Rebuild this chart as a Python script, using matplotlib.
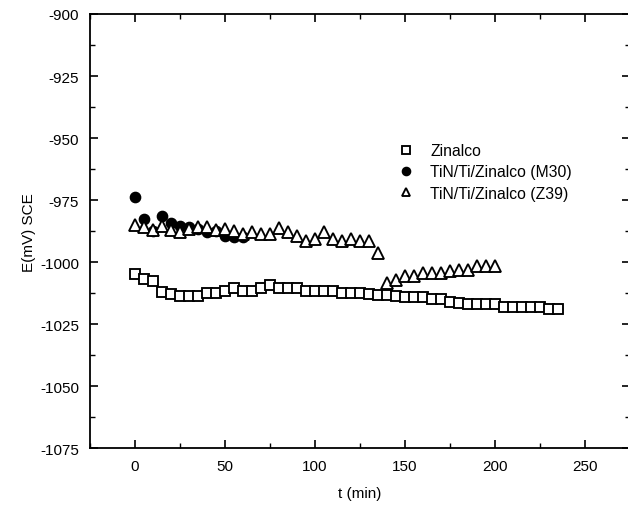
import matplotlib
matplotlib.use("Agg")
import matplotlib.pyplot as plt
from matplotlib.ticker import MultipleLocator

plt.rcParams['font.family'] = ['Liberation Sans', 'DejaVu Sans']
plt.rcParams['axes.unicode_minus'] = False

# Zinalco (squares)
t_zinalco = [0, 5, 10, 15, 20, 25, 30, 35, 40, 45, 50, 55, 60, 65, 70, 75, 80, 85, 90, 95,
             100, 105, 110, 115, 120, 125, 130, 135, 140, 145, 150, 155, 160, 165, 170, 175,
             180, 185, 190, 195, 200, 205, 210, 215, 220, 225, 230, 235]
e_zinalco = [-1004.6, -1006.6, -1007.5, -1012.0, -1012.8, -1013.6, -1013.6, -1013.6, -1012.5, -1012.5,
             -1011.6, -1010.5, -1011.6, -1011.6, -1010.5, -1009.2, -1010.5, -1010.5, -1010.5, -1011.5,
             -1011.5, -1011.5, -1011.5, -1012.5, -1012.5, -1012.5, -1012.8, -1013.2, -1013.2, -1013.5,
             -1014.0, -1014.0, -1014.0, -1015.0, -1015.0, -1016.0, -1016.4, -1016.8, -1016.8, -1016.8,
             -1016.8, -1018.0, -1018.0, -1018.0, -1018.0, -1018.0, -1019.0, -1019.0]

# TiN/Ti/Zinalco (M30) (filled circles)
t_m30 = [0, 5, 10, 15, 20, 25, 30, 35, 40, 45, 50, 55, 60]
e_m30 = [-973.9, -982.6, -987.5, -981.5, -984.3, -985.3, -986.0, -986.5, -988.0, -987.5, -989.6, -990.0, -990.0]

# TiN/Ti/Zinalco (Z39) (open triangles)
t_z39 = [0, 5, 10, 15, 20, 25, 30, 35, 40, 45, 50, 55, 60, 65, 70, 75, 80, 85, 90, 95,
         100, 105, 110, 115, 120, 125, 130, 135, 140, 145, 150, 155, 160, 165, 170, 175,
         180, 185, 190, 195, 200]
e_z39 = [-985.0, -986.0, -987.0, -985.5, -987.0, -988.0, -986.5, -986.0, -986.0, -987.0,
         -986.5, -987.5, -988.5, -987.7, -988.5, -988.5, -986.2, -987.7, -989.5, -991.5,
         -990.5, -987.7, -990.5, -991.5, -990.5, -991.5, -991.5, -996.5, -1008.5, -1007.0,
         -1005.5, -1005.5, -1004.5, -1004.5, -1004.5, -1003.5, -1003.0, -1003.0, -1001.5,
         -1001.5, -1001.5]

x_ticks = [0, 50, 100, 150, 200, 250]
y_ticks = [-900, -925, -950, -975, -1000, -1025, -1050, -1075]

fig = plt.figure(figsize=(6.28, 5.06), dpi=100)
ax = fig.add_axes([90/628, 1 - 449.3/506, 540/628, (449.3 - 15)/506])

ax.plot(t_zinalco, e_zinalco, linestyle='none', marker='s', markersize=6.6,
        markerfacecolor='white', markeredgecolor='black', markeredgewidth=1.35, label='Zinalco')
ax.plot(t_m30, e_m30, linestyle='none', marker='o', markersize=7.4,
        markerfacecolor='black', markeredgecolor='black', label='TiN/Ti/Zinalco (M30)')
ax.plot(t_z39, e_z39, linestyle='none', marker='^', markersize=8.0,
        markerfacecolor='white', markeredgecolor='black', markeredgewidth=1.35,
        label='TiN/Ti/Zinalco (Z39)')

ax.set_xlim(-25, 275)
ax.set_ylim(-1075, -900)
ax.set_xticks(x_ticks)
ax.set_yticks(y_ticks)
ax.xaxis.set_minor_locator(MultipleLocator(25))
ax.yaxis.set_minor_locator(MultipleLocator(12.5))
ax.tick_params(which='major', direction='in', length=6, width=1.2, labelsize=11, pad=8,
               top=True, right=True)
ax.tick_params(which='minor', direction='in', length=3.5, width=1.0, top=True, right=True)
for s in ['left', 'bottom', 'top', 'right']:
    ax.spines[s].set_linewidth(1.3)

ax.set_xlabel('t (min)', fontsize=11, labelpad=9)
ax.set_ylabel('E(mV) SCE', fontsize=11, labelpad=3)

leg = ax.legend(loc='upper left', bbox_to_anchor=(0.541, 0.735), frameon=False,
                fontsize=11.3, markerscale=0.8, handletextpad=0.95, labelspacing=0.4,
                handlelength=1.2)

fig.savefig('out.png', dpi=100)
